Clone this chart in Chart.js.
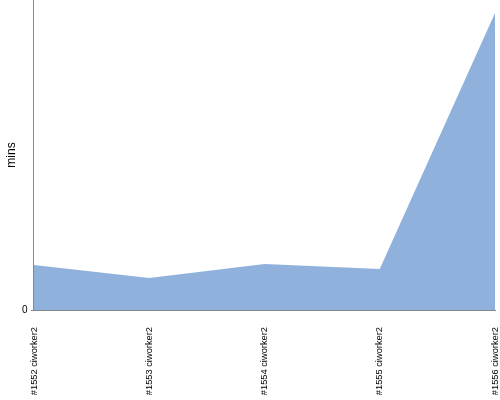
<!DOCTYPE html>
<html>
<head>
<meta charset="utf-8">
<script src="https://cdn.jsdelivr.net/npm/chart.js@4"></script>
<style>
    html, body { margin: 0; padding: 0; background: #fff; }
    #wrap { width: 500px; height: 400px; }
</style>
</head>
<body>
<div id="wrap"><canvas id="buildChart"></canvas></div>
<script>
// Build durations per job
const builds = ['#1552 ciworker2', '#1553 ciworker2', '#1554 ciworker2', '#1555 ciworker2', '#1556 ciworker2'];
const durations = [4.5, 3.2, 4.6, 4.1, 29.7];
const yTicks = [0];
const yMax = 31;

const labelFont = { family: "'Liberation Sans Narrow', 'Liberation Sans', Arial, sans-serif", size: 9.3 };

const ctx = document.getElementById('buildChart').getContext('2d');
new Chart(ctx, {
    type: 'line',
    data: {
        labels: builds,
        datasets: [{
            data: durations,
            fill: 'origin',
            backgroundColor: '#8fb1db',
            borderColor: '#8fb1db',
            borderWidth: 0,
            pointRadius: 0,
            tension: 0
        }]
    },
    options: {
        responsive: true,
        maintainAspectRatio: false,
        animation: false,
        layout: { padding: { top: 0, right: 5, left: 0, bottom: 5 } },
        plugins: {
            legend: { display: false },
            tooltip: { enabled: false }
        },
        scales: {
            x: {
                offset: false,
                grid: { display: false },
                border: { display: true, color: '#888' },
                afterFit: scale => {
                    scale.paddingLeft = 0;
                    scale.paddingRight = 0;
                    scale.height = 85;
                },
                ticks: {
                    color: '#000',
                    font: labelFont,
                    minRotation: 90,
                    maxRotation: 90,
                    autoSkip: false,
                    padding: 9
                }
            },
            y: {
                min: 0,
                max: yMax,
                afterBuildTicks: axis => {
                    axis.ticks = yTicks.map(v => ({ value: v }));
                },
                afterFit: scale => {
                    scale.paddingTop = 0;
                    scale.paddingBottom = 0;
                },
                grid: { drawOnChartArea: false, tickLength: 3, color: '#888' },
                border: { display: true, color: '#888' },
                ticks: { color: '#000', font: { family: "'Liberation Sans', Arial, sans-serif", size: 10 }, padding: 3.5 },
                title: {
                    display: true,
                    text: 'mins',
                    color: '#000',
                    font: { family: "'Liberation Sans', Arial, sans-serif", size: 12 },
                    padding: { top: 4, bottom: 0 }
                }
            }
        }
    }
});
</script>
</body>
</html>
